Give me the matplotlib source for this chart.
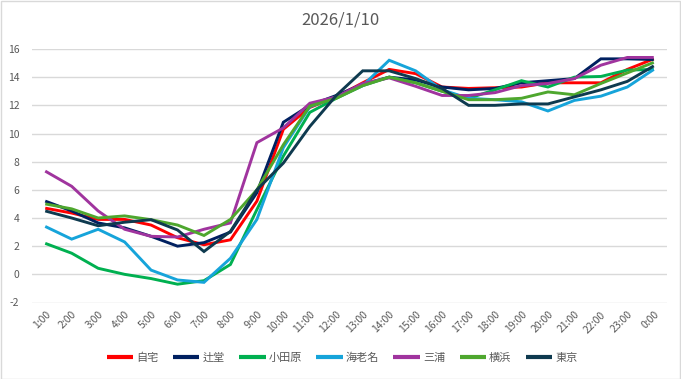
import matplotlib
matplotlib.use("Agg")
import matplotlib.pyplot as plt
from matplotlib.patches import Rectangle

plt.rcParams['font.family'] = ['Noto Sans CJK JP', 'DejaVu Sans']

hours = ["1:00", "2:00", "3:00", "4:00", "5:00", "6:00", "7:00", "8:00", "9:00", "10:00",
         "11:00", "12:00", "13:00", "14:00", "15:00", "16:00", "17:00", "18:00", "19:00",
         "20:00", "21:00", "22:00", "23:00", "0:00"]

jitaku = [4.7, 4.35, 3.9, 3.9, 3.5, 2.6, 2.1, 2.45, 5.2, 10.3, 11.85, 12.6, 13.6, 14.55,
          14.25, 13.3, 13.2, 13.25, 13.3, 13.6, 13.6, 13.6, 14.55, 15.3]
tsujido = [5.2, 4.5, 3.65, 3.3, 2.7, 2.0, 2.25, 3.0, 5.8, 10.8, 12.0, 12.7, 13.5, 14.0,
           13.8, 13.3, 13.1, 13.2, 13.6, 13.75, 13.9, 15.3, 15.3, 15.25]
odawara = [2.2, 1.5, 0.43, 0.0, -0.3, -0.7, -0.45, 0.7, 4.6, 8.4, 11.5, 12.5, 13.4, 14.0,
           13.6, 13.0, 12.5, 13.1, 13.75, 13.3, 14.0, 14.05, 14.5, 14.55]
ebina = [3.4, 2.5, 3.2, 2.3, 0.3, -0.4, -0.57, 1.14, 3.9, 9.0, 11.9, 12.6, 13.4, 15.2,
         14.45, 13.1, 12.5, 12.4, 12.25, 11.6, 12.35, 12.65, 13.3, 14.55]
miura = [7.33, 6.25, 4.5, 3.2, 2.7, 2.65, 3.2, 3.65, 9.35, 10.4, 12.15, 12.6, 13.55, 13.95,
         13.35, 12.7, 12.7, 12.9, 13.4, 13.55, 13.9, 14.85, 15.4, 15.4]
yokohama = [5.0, 4.65, 4.0, 4.15, 3.88, 3.5, 2.76, 3.9, 6.0, 9.2, 11.95, 12.5, 13.4, 14.0,
            13.6, 13.0, 12.4, 12.4, 12.5, 12.95, 12.75, 13.55, 14.3, 15.05]
tokyo = [4.5, 4.0, 3.45, 3.7, 3.88, 3.15, 1.62, 3.05, 6.0, 7.9, 10.5, 12.7, 14.45, 14.45,
         13.9, 13.2, 12.0, 12.0, 12.1, 12.1, 12.6, 13.1, 13.7, 14.8]

series_names = ["自宅", "辻堂", "小田原", "海老名", "三浦", "横浜", "東京"]
series_values = [jitaku, tsujido, odawara, ebina, miura, yokohama, tokyo]
series_colors = ["#FF0000", "#002060", "#00B050", "#16A4DA", "#A0349E", "#4EA72E", "#0E3A4F"]

title = "2026/1/10"
yticks = [-2, 0, 2, 4, 6, 8, 10, 12, 14, 16]

fig = plt.figure(figsize=(6.81, 3.79), dpi=100)
ax = fig.add_axes([32 / 681, 1 - 302.5 / 379, 635 / 681, 253.5 / 379])

x = list(range(len(hours)))
for name, vals, col in zip(series_names, series_values, series_colors):
    ax.plot(x, vals, color=col, lw=2.1, label=name, solid_joinstyle='miter', solid_capstyle='butt')

ax.set_xlim(-0.5, len(hours) - 0.5)
ax.set_ylim(-2, 16)
ax.set_yticks(yticks)
ax.set_yticklabels([str(v) for v in yticks])
ax.set_xticks(x)
ax.set_xticklabels(hours, rotation=45, ha='right', rotation_mode='anchor')
ax.grid(axis='y', color='#D9D9D9', lw=1.0)
ax.set_axisbelow(True)
for s in ax.spines.values():
    s.set_visible(False)
ax.tick_params(axis='both', length=0, colors='#595959', labelsize=7.5)
ax.tick_params(axis='y', pad=9)
ax.tick_params(axis='x', pad=5)

fig.text(340 / 681, 1 - 20 / 379, title, ha='center', va='center', fontsize=12, color='#595959')

leg = fig.legend(loc='center', bbox_to_anchor=(342 / 681, 1 - 358 / 379), ncol=7, frameon=False,
                 fontsize=8, handlelength=2.4, handletextpad=0.25, columnspacing=1.3)
for t in leg.get_texts():
    t.set_color('#595959')
for h in leg.get_lines():
    h.set_linewidth(3)

fig.patches.append(Rectangle((0.5 / 681, 0.5 / 379), 679.5 / 681, 377.5 / 379, transform=fig.transFigure,
                             fill=False, edgecolor='#D9D9D9', lw=1))

fig.savefig("out.png", dpi=100)
